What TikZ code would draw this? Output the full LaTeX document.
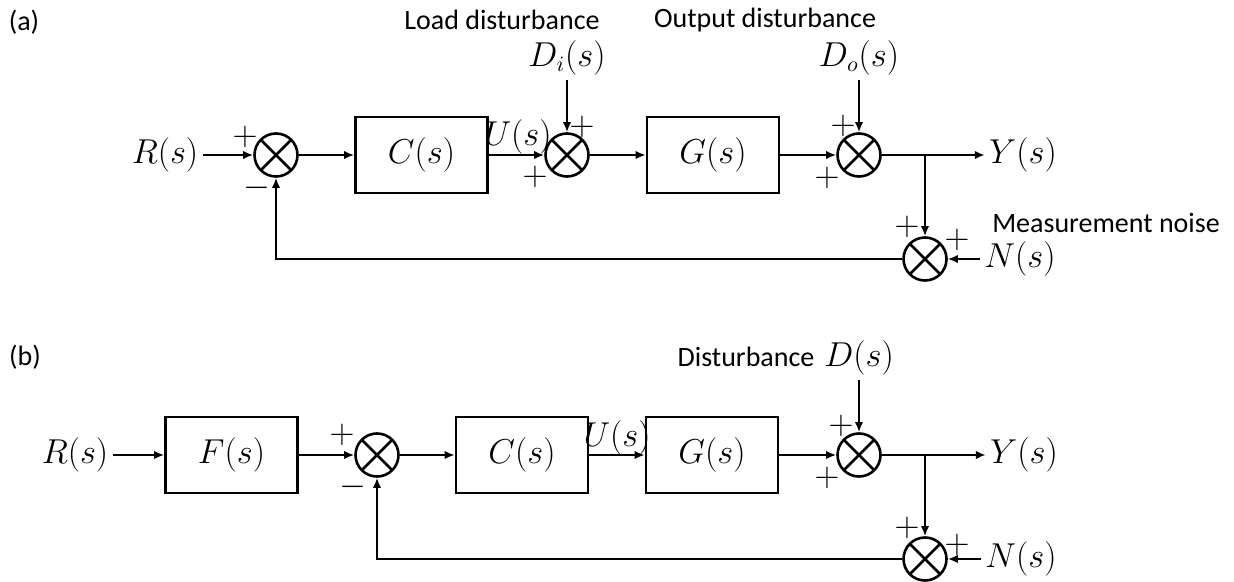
\documentclass[tikz,border=0pt]{standalone}
\usepackage[no-math]{fontspec}
\setmainfont{Carlito}
\usepackage{amsmath,amssymb}
\usetikzlibrary{arrows.meta}
\newcommand{\sigfont}{\fontsize{16}{19}\selectfont}
\tikzset{
  block/.style={
    draw,
    line width = 1.3pt,
    inner sep = 0pt,
    minimum width = 66pt,
    minimum height = 38pt,
    font = \sigfont
  },
  summer/.style={
    shape = circle,
    draw,
    line width = 1.3pt,
    inner sep = 0pt,
    minimum size = 21.5pt,
    path picture = {
      \draw[line width=1.3pt] (path picture bounding box.north west) -- (path picture bounding box.south east)
        (path picture bounding box.north east) -- (path picture bounding box.south west);
    }
  },
  sig/.style={
    inner sep = 2pt,
    font = \sigfont
  },
  sign/.style={
    inner sep = 0pt,
    font = \sigfont
  },
  caption/.style={
    inner sep = 0pt,
    font = \fontsize{14}{17}\selectfont
  },
  flow/.style={
    line width = 1.2pt,
    -{Latex[length=5pt,width=4.2pt]}
  }
}
\begin{document}
\begin{tikzpicture}[x=0.5pt,y=-0.5pt]
  \useasboundingbox (0,0) rectangle (1234,582);
  % (a)
  \node[caption] (lblA) at (24,22) {(a)};
  \node[caption] (loadA) at (502,20) {Load disturbance};
  \node[caption] (outA) at (765,20) {Output disturbance};
  \node[caption] (measA) at (1106,223) {Measurement noise};
  \node[sig] (rA) at (165,155) {$R(s)$};
  \node[summer] (sA1) at (276,155) {};
  \node[block] (cA) at (421.5,155) {$C(s)$};
  \node[sig] (uA) at (518,137) {$U(s)$};
  \node[summer] (sA2) at (567,155) {};
  \node[sig] (diA) at (567,58) {$D_i(s)$};
  \node[block] (gA) at (713,155) {$G(s)$};
  \node[summer] (sA3) at (859,155) {};
  \node[sig] (doA) at (859,58) {$D_o(s)$};
  \node[sig] (yA) at (1023,155) {$Y(s)$};
  \node[summer] (sA4) at (925,259) {};
  \node[sig] (nA) at (1020,259) {$N(s)$};
  \coordinate (bA) at (sA4 |- sA3);
  \node[sign] (pA1) at (245,137) {$+$};
  \node[sign] (mA1) at (257,188) {$-$};
  \node[sign] (pA2) at (582,127) {$+$};
  \node[sign] (pA3) at (535,177) {$+$};
  \node[sign] (pA4) at (843,126) {$+$};
  \node[sign] (pA5) at (827,178) {$+$};
  \node[sign] (pA6) at (907,227) {$+$};
  \node[sign] (pA7) at (957,240) {$+$};
  \draw[flow] (rA) -- (sA1);
  \draw[flow] (sA1) -- (cA);
  \draw[flow] (cA) -- (sA2);
  \draw[flow] (diA) -- (sA2);
  \draw[flow] (sA2) -- (gA);
  \draw[flow] (gA) -- (sA3);
  \draw[flow] (doA) -- (sA3);
  \draw[flow] (sA3) -- (yA);
  \draw[flow] (bA) -- (sA4);
  \draw[flow] (nA) -- (sA4);
  \draw[flow] (sA4) -| (sA1);
  % (b)
  \node[caption] (lblB) at (25,357) {(b)};
  \node[caption] (distB) at (746,357) {Disturbance};
  \node[sig] (rB) at (75,455) {$R(s)$};
  \node[block] (fB) at (231.5,455) {$F(s)$};
  \node[summer] (sB1) at (377,455) {};
  \node[block] (cB) at (522,455) {$C(s)$};
  \node[sig] (uB) at (617,438) {$U(s)$};
  \node[block] (gB) at (712,455) {$G(s)$};
  \node[summer] (sB2) at (859,455) {};
  \node[sig] (dB) at (859,358) {$D(s)$};
  \node[sig] (yB) at (1024,455) {$Y(s)$};
  \node[summer] (sB3) at (925,559) {};
  \node[sig] (nB) at (1021,559) {$N(s)$};
  \coordinate (bB) at (sB3 |- sB2);
  \node[sign] (pB1) at (342,435) {$+$};
  \node[sign] (mB1) at (353,487) {$-$};
  \node[sign] (pB2) at (841,426) {$+$};
  \node[sign] (pB3) at (827,478) {$+$};
  \node[sign] (pB4) at (907,528) {$+$};
  \node[sign] (pB5) at (957,545) {$+$};
  \draw[flow] (rB) -- (fB);
  \draw[flow] (fB) -- (sB1);
  \draw[flow] (sB1) -- (cB);
  \draw[flow] (cB) -- (gB);
  \draw[flow] (gB) -- (sB2);
  \draw[flow] (dB) -- (sB2);
  \draw[flow] (sB2) -- (yB);
  \draw[flow] (bB) -- (sB3);
  \draw[flow] (nB) -- (sB3);
  \draw[flow] (sB3) -| (sB1);
\end{tikzpicture}
\end{document}
